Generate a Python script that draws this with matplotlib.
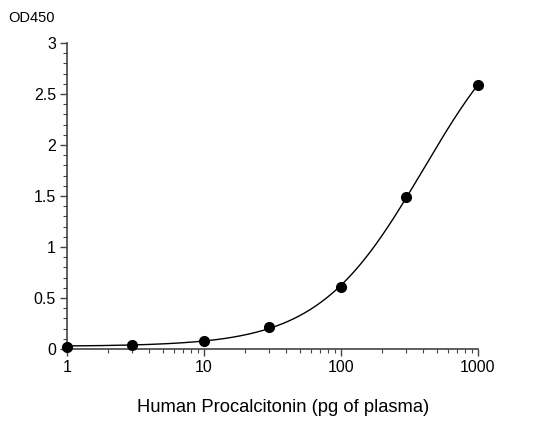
import numpy as np
import matplotlib.pyplot as plt
from matplotlib.ticker import MultipleLocator, FixedLocator, NullFormatter

plt.rcParams['font.family'] = ['Liberation Sans', 'DejaVu Sans']

conc = [1, 3, 10, 30, 100, 300, 1000]
od = [0.02, 0.04, 0.08, 0.22, 0.61, 1.49, 2.59]
x_ticks = [1, 10, 100, 1000]
x_tick_labels = ["1", "10", "100", "1000"]
y_ticks = [0, 0.5, 1, 1.5, 2, 2.5, 3]
y_tick_labels = ["0", "0.5", "1", "1.5", "2", "2.5", "3"]


def four_pl(x, p):
    a, d, c, b = p
    return d + (a - d) / (1 + (x / c) ** b)


# fit 4PL to the points (small Levenberg-Marquardt, no scipy)
xs = np.array(conc, float)
ys = np.array(od, float)
p = np.array([0.02, 3.2, 350.0, 1.2])
lam = 1e-3
for _ in range(500):
    r = ys - four_pl(xs, p)
    J = np.zeros((len(xs), 4))
    for k in range(4):
        dp = np.zeros(4)
        dp[k] = 1e-6 * max(abs(p[k]), 1e-3)
        J[:, k] = (four_pl(xs, p + dp) - four_pl(xs, p)) / dp[k]
    A = J.T @ J
    step = np.linalg.solve(A + lam * np.diag(np.diag(A)), J.T @ r)
    pn = p + step
    if pn[2] > 0 and np.sum((ys - four_pl(xs, pn)) ** 2) < np.sum(r ** 2):
        p = pn
        lam *= 0.5
    else:
        lam *= 4

xc = np.logspace(0, 3, 300)

fig = plt.figure(figsize=(5.39, 4.24), dpi=100)
ax = fig.add_axes([67 / 539, 1 - 349 / 424, 411 / 539, 306 / 424])
ax.plot(xc, four_pl(xc, p), color='black', lw=1, clip_on=False)
ax.plot(conc, od, 'o', color='black', ms=7, clip_on=False, zorder=5)

ax.set_xscale('log')
ax.set_xlim(1, 1000)
ax.set_ylim(0, 3)
ax.xaxis.set_major_locator(FixedLocator(x_ticks))
ax.set_xticklabels(x_tick_labels)
minor = [m * 10 ** e for e in range(3) for m in range(2, 10)]
ax.xaxis.set_minor_locator(FixedLocator(minor))
ax.xaxis.set_minor_formatter(NullFormatter())
ax.set_yticks(y_ticks)
ax.set_yticklabels(y_tick_labels)
ax.yaxis.set_minor_locator(MultipleLocator(0.1))

for s in ['top', 'right']:
    ax.spines[s].set_visible(False)
for s in ['left', 'bottom']:
    ax.spines[s].set_color('#444444')
    ax.spines[s].set_linewidth(1.2)
ax.tick_params(which='major', length=5, width=1, color='#444444', labelsize=11.5, pad=3)
ax.tick_params(which='minor', length=3, width=0.8, color='#444444')

fig.text(8 / 539, 1 - 18 / 424, "OD450", fontsize=10.5, va='center', ha='left')
ax.set_xlabel("Human Procalcitonin (pg of plasma)", fontsize=13.2)
ax.xaxis.set_label_coords((283 - 67) / 411, -(407 - 349) / 306)
ax.xaxis.label.set_va('center')

fig.savefig("out.png", dpi=100)
